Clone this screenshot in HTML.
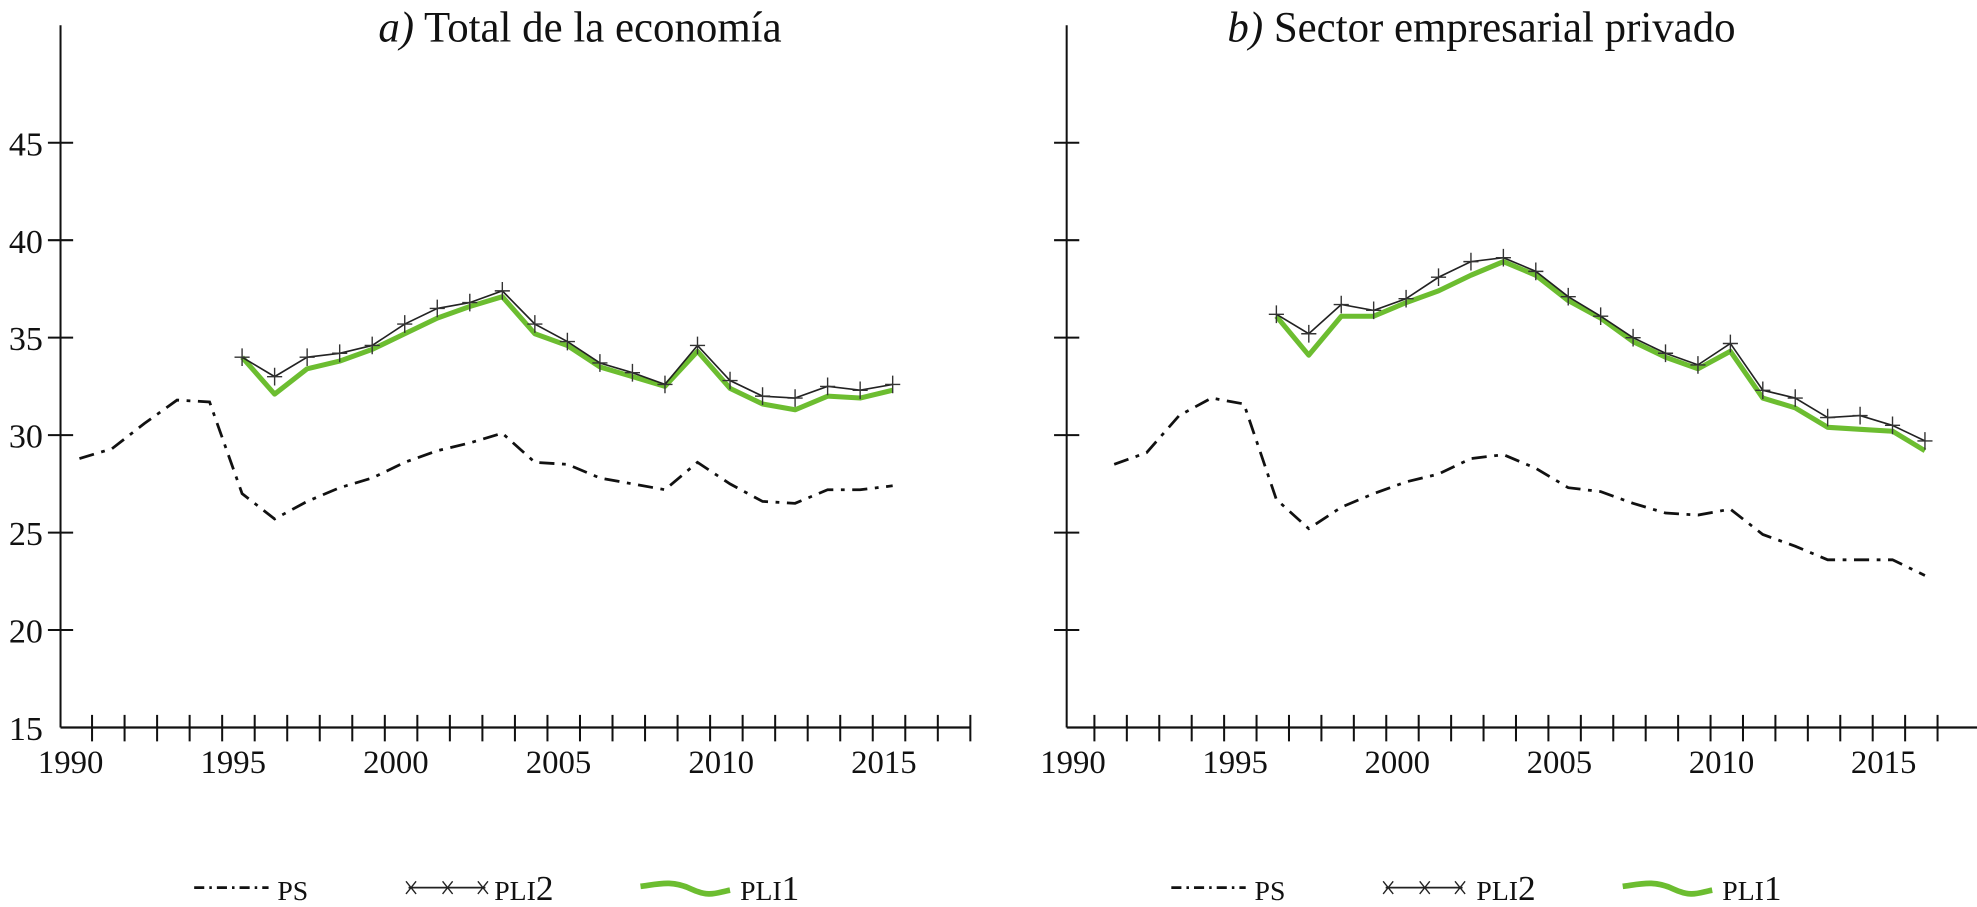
<!DOCTYPE html>
<html><head><meta charset="utf-8"><style>
body{margin:0;background:#fff;width:1977px;height:902px;overflow:hidden}
svg text{font-family:"Liberation Serif",serif;fill:#111}
</style></head><body>
<svg id="c" width="1977" height="902" viewBox="0 0 1568 715.4"></svg>
<script>
const yearsPS_a=[1990,1991,1992,1993,1994,1995,1996,1997,1998,1999,2000,2001,2002,2003,2004,2005,2006,2007,2008,2009,2010,2011,2012,2013,2014,2015];
const ps_a=[28.8,29.3,30.6,31.8,31.7,27.0,25.7,26.6,27.3,27.8,28.6,29.2,29.6,30.1,28.6,28.5,27.8,27.5,27.2,28.6,27.5,26.6,26.5,27.2,27.2,27.4];
const yearsPLI_a=[1995,1996,1997,1998,1999,2000,2001,2002,2003,2004,2005,2006,2007,2008,2009,2010,2011,2012,2013,2014,2015];
const pli2_a=[34.0,33.0,34.0,34.2,34.6,35.7,36.5,36.8,37.4,35.7,34.8,33.7,33.2,32.6,34.6,32.8,32.0,31.9,32.5,32.3,32.6];
const pli1_a=[34.0,32.1,33.4,33.8,34.4,35.2,36.0,36.6,37.1,35.2,34.6,33.5,33.0,32.5,34.3,32.4,31.6,31.3,32.0,31.9,32.3];
const yearsPS_b=[1991,1992,1993,1994,1995,1996,1997,1998,1999,2000,2001,2002,2003,2004,2005,2006,2007,2008,2009,2010,2011,2012,2013,2014,2015,2016];
const ps_b=[28.5,29.1,31.0,31.9,31.6,26.7,25.2,26.3,27.0,27.6,28.0,28.8,29.0,28.3,27.3,27.1,26.5,26.0,25.9,26.2,24.9,24.3,23.6,23.6,23.6,22.8];
const yearsPLI_b=[1996,1997,1998,1999,2000,2001,2002,2003,2004,2005,2006,2007,2008,2009,2010,2011,2012,2013,2014,2015,2016];
const pli2_b=[36.2,35.2,36.7,36.4,37.0,38.1,38.9,39.1,38.4,37.1,36.1,35.0,34.2,33.6,34.7,32.3,31.9,30.9,31.0,30.5,29.7];
const pli1_b=[36.1,34.1,36.1,36.1,36.8,37.4,38.2,38.9,38.2,36.9,36.0,34.8,34.0,33.4,34.3,31.9,31.4,30.4,30.3,30.2,29.2];
const yTicks=[15,20,25,30,35,40,45];
const xTickLabels=[1990,1995,2000,2005,2010,2015];

const S=document.getElementById('c');const NS='http://www.w3.org/2000/svg';
function mk(t,a,p){const e=document.createElementNS(NS,t);for(const k in a)e.setAttribute(k,a[k]);(p||S).appendChild(e);return e;}
const yS=v=>577-(v-15)*15.46;
const panels=[
 {ax:48,xEnd:769,x0:63,step:25.8,nt:28,title:'Total de la economía',tl:'a)',tx:460,
  ps:[yearsPS_a,ps_a],p2:[yearsPLI_a,pli2_a],p1:[yearsPLI_a,pli1_a],lg:[154,220,324,392,508,587],name:'a'},
 {ax:846,xEnd:1568,x0:858,step:25.72,nt:27,title:'Sector empresarial privado',tl:'b)',tx:1175,
  ps:[yearsPS_b,ps_b],p2:[yearsPLI_b,pli2_b],p1:[yearsPLI_b,pli1_b],lg:[929,995,1099,1171,1287,1366],name:'b'}];
panels.forEach(P=>{
 const g=mk('g',{});
 
 
 const xD=y=>P.x0+(y-1990)*P.step;
 const t=mk('text',{x:P.tx,y:33,'font-size':34,'text-anchor':'middle'},g);
 
 
 t.innerHTML='<tspan font-style="italic">'+P.tl+'</tspan> '+P.title;
 mk('line',{x1:P.ax,y1:20,x2:P.ax,y2:577,stroke:'#111','stroke-width':1.6},g);
 mk('line',{x1:P.ax,y1:577,x2:P.xEnd,y2:577,stroke:'#111','stroke-width':1.8},g);
 yTicks.forEach(v=>{
  if(v>15)mk('line',{x1:P.ax-10,x2:P.ax+10,y1:yS(v),y2:yS(v),stroke:'#111','stroke-width':1.6},g);
  if(P.name==='a'){const l=mk('text',{x:P.ax-14,y:yS(v)+10,'font-size':27,'text-anchor':'end'},g);l.textContent=v;
   
   }
 });
 for(let k=0;k<P.nt;k++){const x=xD(1990+k)+10;mk('line',{x1:x,x2:x,y1:567,y2:588,stroke:'#111','stroke-width':1.6},g);}
 xTickLabels.forEach(y=>{const l=mk('text',{x:xD(y)-7,y:613,'font-size':26,'text-anchor':'middle'},g);l.textContent=y;
  
  });
 const pts=(d)=>d[0].map((yr,i)=>xD(yr).toFixed(1)+','+yS(d[1][i]).toFixed(1)).join(' ');
 const ps=mk('polyline',{points:pts(P.ps),fill:'none',stroke:'#111','stroke-width':2.2,'stroke-dasharray':'12,6,3,6'},g);
 
 
 const l1=mk('polyline',{points:pts(P.p1),fill:'none',stroke:'#6cbd30','stroke-width':4,'stroke-linejoin':'round'},g);
 
 
 const l2=mk('polyline',{points:pts(P.p2),fill:'none',stroke:'#222','stroke-width':1.3},g);
 
 
 P.p2[0].forEach((yr,i)=>{const x=xD(yr),y=yS(P.p2[1][i]);
  mk('path',{d:`M${x-6},${y}H${x+6}M${x},${y-7}V${y+7}`,stroke:'#333','stroke-width':1.1},g);});
 const Lg=P.lg,ly=704;
 const lg=mk('g',{},g);
 
 
 mk('line',{x1:Lg[0],x2:Lg[0]+59,y1:ly,y2:ly,stroke:'#111','stroke-width':2.2,'stroke-dasharray':'8,4,2,4'},lg);
 const t1=mk('text',{x:Lg[1],y:ly+10,'font-size':22},lg);t1.textContent='PS';
 mk('line',{x1:Lg[2],x2:Lg[2]+61,y1:ly,y2:ly,stroke:'#222','stroke-width':1.3},lg);
 [Lg[2]+2,Lg[2]+31,Lg[2]+59].forEach(x=>mk('path',{d:`M${x-4},${ly-5}L${x+4},${ly+5}M${x-4},${ly+5}L${x+4},${ly-5}`,stroke:'#222','stroke-width':1.1},lg));
 const t2=mk('text',{x:Lg[3],y:ly+10,'font-size':28},lg);t2.innerHTML='<tspan font-size="22">PLI</tspan>2';
 const a=Lg[4];
 mk('path',{d:`M${a},${ly-1}C${a+15},${ly-3} ${a+25},${ly-6} ${a+40},${ly+1}S${a+60},${ly+4} ${a+71},${ly+2}`,fill:'none',stroke:'#6cbd30','stroke-width':4.5},lg);
 const t3=mk('text',{x:Lg[5],y:ly+10,'font-size':28},lg);t3.innerHTML='<tspan font-size="22">PLI</tspan>1';
});
</script>
</body></html>
